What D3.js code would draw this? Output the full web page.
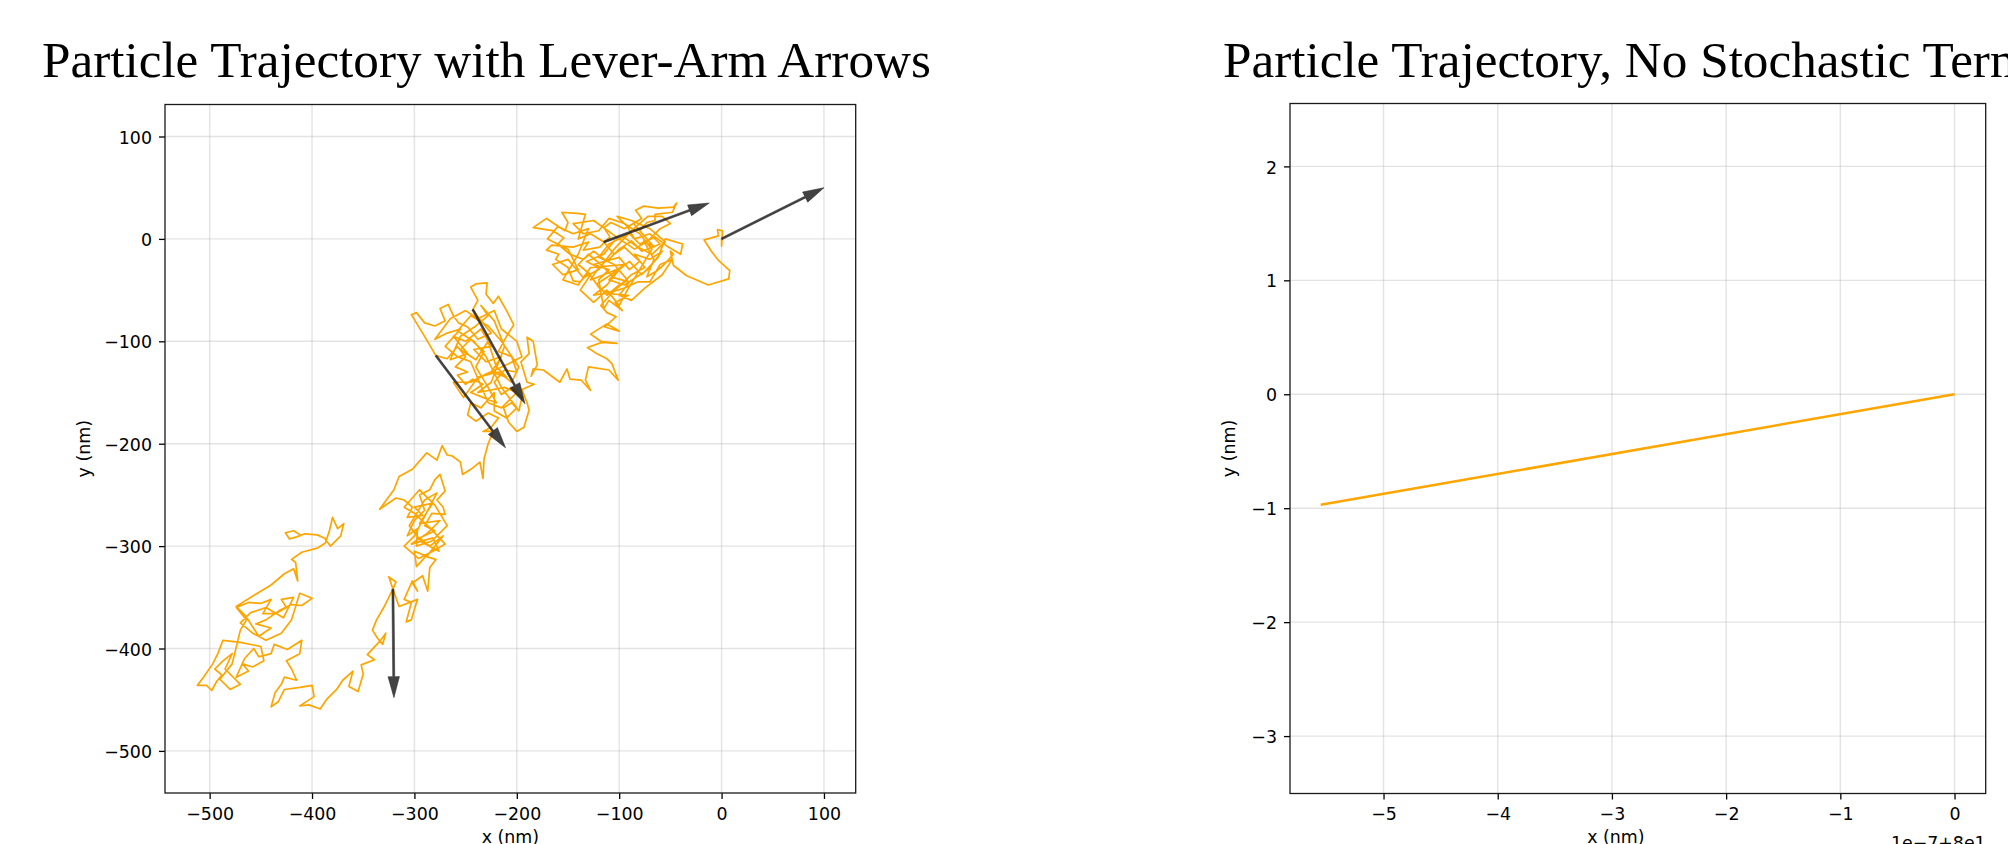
<!DOCTYPE html>
<html><head><meta charset="utf-8">
<script src="https://cdn.jsdelivr.net/npm/d3@7"></script>
<style>
body{margin:0;background:#fff;}
</style>
</head><body>
<svg id="c" width="2008" height="844"></svg>
<script>
// ---------- data ----------
const titles = ["Particle Trajectory with Lever-Arm Arrows", "Particle Trajectory, No Stochastic Term"];
const xLabel = "x (nm)";
const yLabel = "y (nm)";
const offsetText = "1e\u22127+8e1";

const leftXTicks = [-500, -400, -300, -200, -100, 0, 100];
const leftYTicks = [100, 0, -100, -200, -300, -400, -500];
const rightXTicks = [-5, -4, -3, -2, -1, 0];
const rightYTicks = [2, 1, 0, -1, -2, -3];

// stochastic trajectory (nm)
const trajPoints = [
[0,0],[0,-7],[1,8],[-4,9],[-3,3],[-17,-1],[-10,-12],[-3,-21],[8,-31],[7,-39],[-13,-45],[-34,-36],[-47,-26],
[-50,-12],[-47,-15],[-57,-26],[-63,-31],[-73,-37],[-66,-20],[-76,-2],[-66,-8],[-86,15],[-80,8],[-73,16],[-65,18],[-65,24],[-48,26],[-44,35],[-47,31],[-62,30],[-76,32],[-84,28],[-78,20],[-95,10],[-108,16],[-115,11],[-109,2],[-119,-8],[-135,-11],[-130,-3],[-145,-8],[-166,-6],[-171,-11],[-159,-15],[-162,-20],[-150,-28],[-145,-41],[-138,-42],[-130,-33],[-118,-50],[-105,-54],[-91,-55],[-104,-62],[-97,-70],[-110,-60],[-115,-68],[-120,-40],[-110,-30],[-125,-25],[-100,-18],[-90,-30],[-80,-22],[-95,-8],[-105,-15],[-115,-3],
[-128,5],[-140,0],[-133,24],[-141,25],[-156,26],[-150,16],[-153,8],[-171,20],[-184,11],[-165,8],[-154,1],[-160,-5],[-148,-15],[-135,-20],[-125,-12],[-112,-22],[-100,-10],[-88,-2],[-78,-12],[-60,-5],[-70,5],[-85,0],[-92,12],[-102,22],[-88,18],[-70,10],[-55,-3],[-68,-15],[-82,-8],[-96,2],[-110,-5],[-120,-18],[-105,-25],[-92,-40],[-102,-48],
[-88,-35],[-75,-28],[-85,-15],[-70,-20],[-58,-12],[-72,-30],[-95,-45],[-110,-40],[-98,-28],[-115,-35],[-128,-40],[-120,-28],[-132,-22],[-115,-15],[-105,-2],[-90,5],[-80,-5],[-65,2],[-52,-8],[-40,-15],[-38,-5],[-55,0],[-62,-18],[-78,-35],[-90,-22],[-100,-30],[-112,-45],[-125,-55],[-108,-52],[-95,-48],[-82,-42],
[-70,-42],[-60,-25],[-48,-20],[-58,-35],[-75,-48],[-88,-60],[-100,-55],[-90,-42],[-105,-38],[-118,-25],[-130,-15],[-140,-25],[-128,-35],[-138,-50],[-125,-62],[-112,-50],[-100,-65],[-92,-50],[-80,-30],[-68,-10],[-80,5],[-95,15],[-110,20],[-120,8],[-135,5],[-145,15],[-125,18],[-100,0],[-85,-10],[-72,-2],[-60,10],[-50,15],[-58,22],[-72,22],[-88,8],[-105,-10],[-120,-30],[-135,-38],
[-150,-20],[-165,-25],[-155,-35],[-140,-30],[-150,-10],[-170,0],[-160,12],[-145,5],[-130,10],[-140,-15],[-155,-40],[-140,-45],[-128,-28],
[-95,-25],[-108,-35],[-122,-44],[-112,-55],[-100,-45],[-118,-65],[-112,-72],
[-103,-76],[-114,-86],[-100,-90],[-112,-83],[-128,-93],[-118,-100],[-102,-102],[-117,-101],[-131,-106],[-122,-112],[-112,-117],[-107,-122],[-101,-138],[-110,-128],[-130,-125],[-133,-138],[-128,-148],[-137,-138],[-148,-137],[-151,-127],[-158,-140],[-174,-128],[-184,-127],[-186,-134],
[-180,-123],[-184,-100],[-190,-96],[-188,-112],[-196,-120],[-190,-140],[-183,-142],[-195,-147],[-190,-160],[-188,-167],[-193,-184],[-200,-188],[-208,-179],[-213,-165],[-205,-160],[-198,-168],[-195,-155],[-205,-145],[-215,-152],[-222,-140],[-212,-128],[-200,-130],[-205,-115],[-218,-110],[-210,-95],[-203,-84],[-210,-70],[-218,-56],[-223,-63],[-230,-54],[-229,-43],[-240,-44],[-245,-47],[-238,-60],[-243,-69],[-235,-80],[-225,-92],[-238,-98],[-248,-86],[-257,-82],[-262,-75],[-267,-64],[-275,-68],[-270,-80],[-280,-85],[-290,-82],[-298,-72],[-303,-74],[-292,-92],[-279,-114],[-268,-117],[-258,-105],[-250,-115],[-260,-125],[-248,-130],[-258,-133],[-250,-142],[-243,-137],[-233,-142],[-245,-150],[-235,-154],[-225,-158],[-220,-160],[-228,-145],[-240,-125],[-232,-110],[-245,-98],[-255,-108],[-240,-118],[-228,-100],[-220,-125],[-210,-135],
[-225,-130],[-215,-115],[-230,-120],[-242,-108],[-225,-105],[-235,-88],[-250,-100],[-262,-95],[-248,-112],[-265,-118],[-255,-95],[-240,-85],[-228,-75],[-235,-65],[-222,-80],[-212,-105],[-225,-140],[-238,-150],[-212,-145],[-200,-150],[-215,-165],[-228,-160],
[-245,-120],[-258,-115],[-270,-105],[-255,-88],[-268,-92],[-280,-98],[-265,-78],[-250,-70],[-238,-78],[-222,-70],[-215,-88],[-200,-100],[-195,-115],[-208,-122],[-230,-132],[-245,-140],[-262,-140],[-252,-155],[-238,-135],[-218,-130],[-205,-140],[-198,-125],[-215,-100],[-228,-85],[-245,-75],[-258,-90],[-242,-100],[-230,-115],[-215,-145],[-200,-165],[-210,-175],[-222,-168],
[-222,-150],[-235,-165],[-245,-160],[-248,-172],[-240,-178],[-228,-170],[-218,-175],[-225,-184],[-233,-188],[-223,-188],
[-228,-200],[-232,-215],[-233,-234],[-236,-218],[-245,-225],[-253,-230],[-255,-218],[-263,-212],[-268,-211],[-273,-202],[-278,-216],[-288,-209],[-302,-225],[-315,-232],[-320,-245],[-334,-264],[-318,-253],[-310,-255],[-302,-262],[-307,-272],
[-292,-270],[-300,-262],[-282,-258],[-295,-278],[-275,-275],[-288,-288],[-303,-298],[-282,-292],[-276,-305],[-293,-296],[-305,-280],[-290,-255],[-278,-248],
[-300,-290],[-310,-300],[-296,-312],[-282,-305],[-270,-298],[-285,-282],[-300,-268],[-310,-262],[-295,-245],[-280,-260],[-268,-280],[-283,-295],[-298,-300],
[-297,-283],[-307,-290],[-300,-275],[-290,-265],[-295,-250],[-285,-245],[-280,-235],[-275,-230],[-270,-246],[-278,-255],[-272,-262],[-270,-269],[-283,-268],[-290,-280],[-280,-285],[-295,-292],[-285,-300],[-272,-290],[-288,-310],[-300,-305],[-298,-320],[-289,-310],[-279,-313],[-285,-321],[-287,-344],[-292,-329],[-302,-336],[-297,-344],[-302,-334],[-310,-352],[-303,-355],[-308,-374],[-303,-372],[-297,-352],[-315,-359],[-321,-342],[-325,-330],[-318,-335],[-321,-342],
[-330,-360],[-337,-372],[-341,-382],[-336,-390],[-331,-396],[-328,-385],[-333,-392],[-346,-406],[-339,-411],[-352,-416],[-350,-425],[-355,-442],[-364,-437],[-360,-422],
[-370,-431],[-376,-440],[-386,-450],[-392,-459],[-403,-455],[-412,-456],[-398,-447],[-400,-436],[-412,-438],[-427,-440],[-433,-452],[-440,-457],[-436,-443],[-430,-435],[-427,-428],[-415,-431],[-420,-420],[-425,-412],[-412,-405],[-410,-392],[-424,-401],[-437,-396],[-440,-405],[-452,-408],[-457,-400],[-466,-410],[-474,-428],[-462,-422],[-468,-415],[-458,-418],[-447,-412],[-450,-398],[-470,-394],[-487,-392],[-492,-405],[-497,-415],[-506,-428],[-512,-436],[-503,-436],[-498,-441],[-493,-432],[-488,-426],[-495,-420],[-487,-412],[-478,-405],[-485,-420],[-470,-435],[-480,-440],[-490,-430],[-478,-415],[-470,-382],[-464,-372],[-474,-360],[-462,-355],[-450,-356],[-440,-352],[-448,-366],[-436,-366],[-425,-360],[-430,-352],[-418,-350],
[-428,-370],[-445,-360],[-460,-365],[-470,-375],[-458,-385],[-445,-392],[-430,-385],[-420,-372],
[-412,-346],[-400,-351],[-410,-358],[-420,-357],[-432,-363],[-445,-372],[-455,-376],[-440,-380],[-452,-388],[-465,-368],[-474,-359],[-455,-347],[-440,-338],[-427,-327],[-418,-322],[-414,-334],[-416,-316],[-420,-313],[-410,-306],[-395,-302],[-387,-297],[-383,-285],[-380,-272],[-375,-283],[-369,-278],[-372,-290],[-382,-300],[-388,-292],[-395,-289],[-407,-288],[-415,-291],[-422,-293],[-426,-287],[-418,-285],[-410,-290]
];

// lever-arm arrows: tail and tip (nm)
const arrowTailX = [0, -115, -243, -279, -321];
const arrowTailY = [0, -3, -69, -114, -342];
const arrowTipX  = [100, -12, -192, -211, -320];
const arrowTipY  = [50, 35, -161, -204, -448];

// deterministic trajectory (x in units of 1e-7 with offset 80)
const detX = [-5.55, 0];
const detY = [-0.97, 0];

// ---------- drawing ----------
const svg = d3.select("#c");
const fmt = d => String(d).replace("-", "\u2212");
const SANS = "'DejaVu Sans', sans-serif";
const SERIF = "'Liberation Serif', 'Times New Roman', serif";

function panel(cfg) {
  const g = svg.append("g");
  const x = d3.scaleLinear().domain(cfg.xDomain).range([cfg.x0, cfg.x1]);
  const y = d3.scaleLinear().domain(cfg.yDomain).range([cfg.y1, cfg.y0]);
  // grid
  g.append("g").selectAll("line").data(cfg.xTicks).join("line")
    .attr("x1", d => x(d)).attr("x2", d => x(d)).attr("y1", cfg.y0).attr("y2", cfg.y1)
    .attr("stroke", "#b0b0b0").attr("stroke-opacity", 0.35).attr("stroke-width", 1.4);
  g.append("g").selectAll("line").data(cfg.yTicks).join("line")
    .attr("y1", d => y(d)).attr("y2", d => y(d)).attr("x1", cfg.x0).attr("x2", cfg.x1)
    .attr("stroke", "#b0b0b0").attr("stroke-opacity", 0.35).attr("stroke-width", 1.4);
  // axes
  const ax = g.append("g").attr("transform", `translate(0,${cfg.y1})`)
    .call(d3.axisBottom(x).tickValues(cfg.xTicks).tickSize(6).tickPadding(8.4).tickFormat(fmt));
  const ay = g.append("g").attr("transform", `translate(${cfg.x0},0)`)
    .call(d3.axisLeft(y).tickValues(cfg.yTicks).tickSize(6).tickPadding(7).tickFormat(fmt));
  [ax, ay].forEach(a => {
    a.select(".domain").remove();
    a.selectAll(".tick line").attr("stroke", "#000").attr("stroke-width", 1.3);
    a.selectAll(".tick text").style("font-size", "17.4px").style("font-family", SANS).attr("fill", "#000");
  });
  ay.selectAll(".tick text").attr("dy", "0.38em");
  // clip
  const cid = "clip" + cfg.id;
  svg.append("clipPath").attr("id", cid).append("rect")
    .attr("x", cfg.x0).attr("y", cfg.y0).attr("width", cfg.x1 - cfg.x0).attr("height", cfg.y1 - cfg.y0);
  const plot = g.append("g").attr("clip-path", `url(#${cid})`);
  // spines
  g.append("rect").attr("x", cfg.x0).attr("y", cfg.y0)
    .attr("width", cfg.x1 - cfg.x0).attr("height", cfg.y1 - cfg.y0)
    .attr("fill", "none").attr("stroke", "#1a1a1a").attr("stroke-width", 1.3);
  // labels
  g.append("text").attr("x", (cfg.x0 + cfg.x1) / 2 + cfg.xLabelShift).attr("y", 843)
    .attr("text-anchor", "middle").style("font-family", SANS).style("font-size", "17.4px").text(xLabel);
  g.append("text").attr("transform", `translate(${cfg.yLabelX},${(cfg.y0 + cfg.y1) / 2}) rotate(-90)`)
    .attr("text-anchor", "middle").style("font-family", SANS).style("font-size", "17.4px").text(yLabel);
  g.append("text").attr("x", cfg.titleX).attr("y", 77.3)
    .style("font-family", SERIF).style("font-size", "51.2px").text(cfg.title);
  return {x, y, plot};
}

// left panel
const L = panel({id: "L", x0: 165, x1: 855.7, y0: 104.5, y1: 793,
  xDomain: [-543.6, 131.0], yDomain: [-541.1, 131.25],
  xTicks: leftXTicks, yTicks: leftYTicks, yLabelX: 89.5, xLabelShift: 0,
  titleX: 42, title: titles[0]});

L.plot.append("path")
  .attr("d", d3.line().x(d => L.x(d[0])).y(d => L.y(d[1]))(trajPoints))
  .attr("fill", "none").attr("stroke", "#FFA500").attr("stroke-width", 1.7)
  .attr("stroke-linejoin", "round");

const headLen = 21, headHalf = 5.7, shaftHalf = 1.0;
arrowTailX.forEach((_, i) => {
  const x0 = L.x(arrowTailX[i]), y0 = L.y(arrowTailY[i]);
  const x1 = L.x(arrowTipX[i]), y1 = L.y(arrowTipY[i]);
  const len = Math.hypot(x1 - x0, y1 - y0);
  const ux = (x1 - x0) / len, uy = (y1 - y0) / len;
  const px = -uy, py = ux;
  const bx = x1 - ux * headLen, by = y1 - uy * headLen;
  const pts = [
    [x0 + px * shaftHalf, y0 + py * shaftHalf],
    [bx + px * shaftHalf, by + py * shaftHalf],
    [bx + px * headHalf, by + py * headHalf],
    [x1, y1],
    [bx - px * headHalf, by - py * headHalf],
    [bx - px * shaftHalf, by - py * shaftHalf],
    [x0 - px * shaftHalf, y0 - py * shaftHalf]
  ];
  L.plot.append("path").attr("d", "M" + pts.map(p => p.join(",")).join("L") + "Z")
    .attr("fill", "#222").attr("fill-opacity", 0.85)
    .attr("stroke", "#222").attr("stroke-opacity", 0.85).attr("stroke-width", 0.6);
});

// right panel
const R = panel({id: "R", x0: 1290, x1: 1985.7, y0: 103.5, y1: 793.5,
  xDomain: [-5.819, 0.273], yDomain: [-3.504, 2.552],
  xTicks: rightXTicks, yTicks: rightYTicks, yLabelX: 1235, xLabelShift: -22,
  titleX: 1223, title: titles[1]});

R.plot.append("path")
  .attr("d", d3.line().x((d, i) => R.x(detX[i])).y((d, i) => R.y(detY[i]))(detX))
  .attr("fill", "none").attr("stroke", "#FFA500").attr("stroke-width", 2.6);

svg.append("text").attr("x", 1985.7).attr("y", 849).attr("text-anchor", "end")
  .style("font-family", SANS).style("font-size", "17.4px").text(offsetText);
</script>
</body></html>
